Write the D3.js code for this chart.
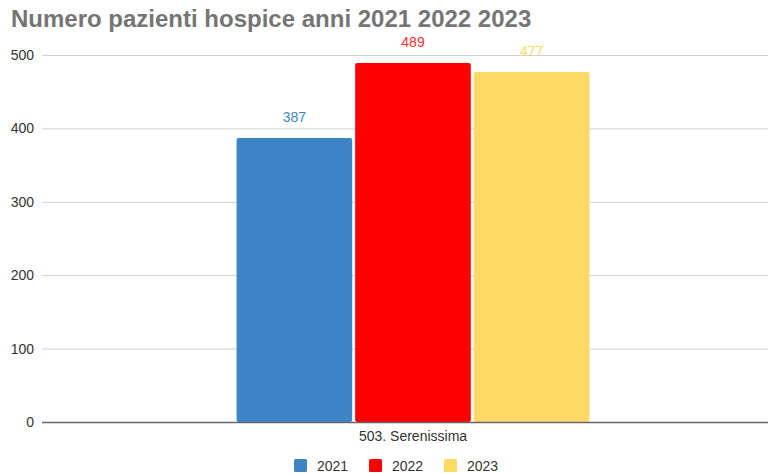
<!DOCTYPE html>
<html>
<head>
<meta charset="utf-8">
<script src="https://cdn.jsdelivr.net/npm/d3@7"></script>
<style>
  html, body { margin: 0; padding: 0; background: #fff; }
  svg { display: block; font-family: "Liberation Sans", Arial, sans-serif; }
</style>
</head>
<body>
<svg id="chart" width="769" height="473"></svg>
<script>
// Hospice patients, by year
const categories = ["503. Serenissima"];
const years = ["2021", "2022", "2023"];
const values2021 = [387];
const values2022 = [489];
const values2023 = [477];
const colors = ["#3d85c6", "#ff0000", "#ffd966"];
const labelColors = ["#3d85c6", "#ff3333", "#ffd966"];
const yTicks = [0, 100, 200, 300, 400, 500];
const title = "Numero pazienti hospice anni 2021 2022 2023";

const series = [values2021, values2022, values2023];
const rows = categories.map((c, i) => ({
  category: c,
  items: years.map((y, j) => ({ year: y, value: series[j][i], idx: j }))
}));

const svg = d3.select("#chart");
const margin = { top: 55, right: 1, bottom: 51, left: 42 };
const W = 769, H = 473;
const plotLeft = margin.left, plotRight = W - margin.right;
const plotTop = margin.top, plotBottom = H - margin.bottom;

const y = d3.scaleLinear().domain([0, 500]).range([plotBottom, plotTop]);
const x0 = d3.scaleBand().domain(categories).range([58, plotRight]).paddingInner(0).paddingOuter(0.506);
const x1 = d3.scaleBand().domain(years).range([0, x0.bandwidth()]).paddingInner(0.025);

// Title
svg.append("text")
  .attr("x", 11).attr("y", 27)
  .attr("fill", "#757575")
  .attr("font-size", 24).attr("font-weight", "bold")
  .text(title);

// Gridlines and y tick labels
const yAxis = d3.axisLeft(y).tickValues(yTicks).tickSize(-(plotRight - plotLeft)).tickPadding(8);
const gy = svg.append("g").attr("transform", `translate(${plotLeft},0)`).call(yAxis);
gy.select(".domain").remove();
gy.selectAll(".tick line").attr("stroke", "#d0d0d0").attr("stroke-width", 1);
gy.selectAll(".tick text")
  .attr("x", -8)
  .attr("fill", "#333").attr("font-size", 14)
  .attr("font-family", "Liberation Sans, Arial, sans-serif");

// Bars
const groups = svg.append("g").selectAll("g").data(rows).join("g")
  .attr("transform", d => `translate(${x0(d.category)},0)`);

groups.selectAll("rect").data(d => d.items).join("rect")
  .attr("x", d => x1(d.year))
  .attr("y", d => y(d.value))
  .attr("width", x1.bandwidth())
  .attr("height", d => y(0) - y(d.value))
  .attr("rx", 2).attr("ry", 2)
  .attr("fill", d => colors[d.idx]);

// Value labels
groups.selectAll("text.val").data(d => d.items).join("text")
  .attr("class", "val")
  .attr("x", d => x1(d.year) + x1.bandwidth() / 2)
  .attr("y", d => y(d.value) - 16)
  .attr("text-anchor", "middle")
  .attr("fill", d => labelColors[d.idx])
  .attr("font-size", 14)
  .text(d => d.value);

// Baseline
svg.append("line")
  .attr("x1", plotLeft).attr("x2", plotRight)
  .attr("y1", y(0) + 0.5).attr("y2", y(0) + 0.5)
  .attr("stroke", "#666").attr("stroke-width", 1.3);

// Category axis label
const xAxis = d3.axisBottom(x0).tickSize(0).tickPadding(9);
const gx = svg.append("g").attr("transform", `translate(0,${plotBottom})`).call(xAxis);
gx.select(".domain").remove();
gx.selectAll(".tick text")
  .attr("fill", "#333").attr("font-size", 14)
  .attr("font-family", "Liberation Sans, Arial, sans-serif");

// Legend
const legendX = [294, 369, 444];
const legend = svg.append("g").selectAll("g").data(years).join("g")
  .attr("transform", (d, i) => `translate(${legendX[i]},459)`);
legend.append("rect")
  .attr("width", 13).attr("height", 13).attr("rx", 1.5)
  .attr("fill", (d, i) => colors[i]);
legend.append("text")
  .attr("x", 23).attr("y", 11.5)
  .attr("fill", "#333").attr("font-size", 14)
  .text(d => d);
</script>
</body>
</html>
